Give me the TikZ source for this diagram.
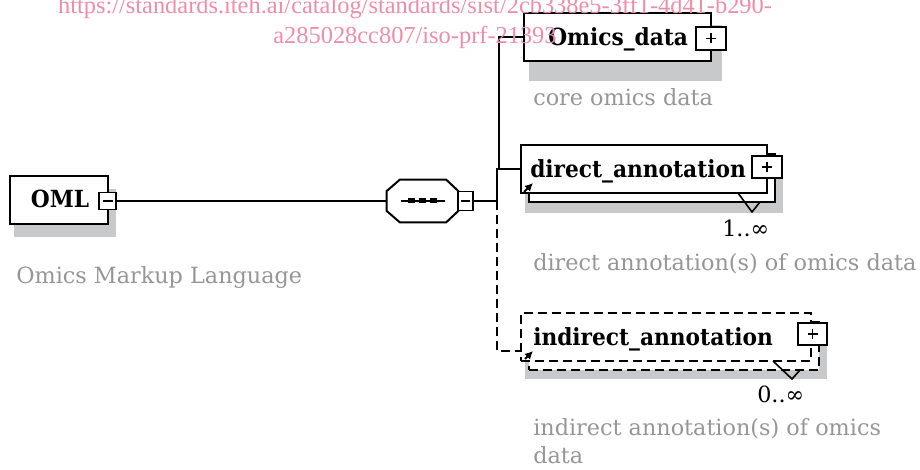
\documentclass[tikz,border=0pt]{standalone}
\usepackage{fontspec}
\setmainfont{DejaVu Serif}
\newfontfamily\lblfam[FakeStretch=0.92]{DejaVu Serif}
\newfontfamily\urlfont{Liberation Serif}
\usetikzlibrary{arrows.meta,calc}
\definecolor{shadowgray}{RGB}{200,201,203}
\definecolor{notegray}{RGB}{150,150,152}
\definecolor{urlpink}{RGB}{240,140,170}
\newcommand{\lblfont}{\lblfam\fontsize{17.7}{20}\selectfont\bfseries}
\newcommand{\notefont}{\fontsize{16.75}{19}\selectfont}
\begin{document}
\begin{tikzpicture}[x=0.75pt,y=-0.75pt,
  sz/.style 2 args={minimum width=#1*0.75pt, minimum height=#2*0.75pt},
  bx/.style={draw, line width=1.5pt, fill=white, inner sep=0},
  dbx/.style={bx, dash pattern=on 7pt off 3.5pt},
  pmb/.style={draw, line width=1.2pt, fill=white, inner sep=0},
  shad/.style={fill=shadowgray},
  conn/.style={line width=1.5pt},
  dconn/.style={line width=1.5pt, dash pattern=on 7pt off 3.5pt},
  lbl/.style={font=\lblfont, text=black, inner sep=0, anchor=base west},
  note/.style={font=\notefont, text=notegray, inner sep=0, anchor=base west},
  card/.style={font=\notefont, text=black, inner sep=0, anchor=base west},
  refarrow/.style={line width=1.4pt, -{Latex[length=6pt,width=6pt]}},
  sign/.style={line width=1pt}]
\useasboundingbox (0,0) rectangle (920,470);

% ---------- shadows ----------
\fill[shad] (14,189) rectangle (116,237);
\fill[shad] (529,25) rectangle (722,81);
\fill[shad] (525,160) rectangle (783,213);
\fill[shad] (525,330) rectangle (827,379);

% ---------- OML ----------
\node[bx, sz={98}{48}] (oml) at (59,200) {};
\node[lbl, anchor=base] (omltxt) at (60,208) {OML};
\node[pmb, sz={17}{17}] (omlpm) at (107.5,201) {};
\draw[sign] ($(omlpm.center)+(-5,0)$) -- ($(omlpm.center)+(5,0)$);
\node[note] (omlnote) at (16,283) {Omics Markup Language};

% ---------- sequence compositor ----------
\node[inner sep=0, sz={71}{42}] (seq) at (422.5,201) {};
\draw[line width=1.5pt, fill=white]
  ($(seq.west)+(0,-10)$) -- ($(seq.north west)+(13,0)$) -- ($(seq.north east)+(-12,0)$)
  -- ($(seq.east)+(0,-10)$) -- ($(seq.east)+(0,10)$) -- ($(seq.south east)+(-12,0)$)
  -- ($(seq.south west)+(13,0)$) -- ($(seq.west)+(0,10)$) -- cycle;
\draw[line width=1.5pt] ($(seq.center)+(-22,0)$) -- ($(seq.center)+(22,0)$);
\fill ($(seq.center)+(-14.5,-2.5)$) rectangle ($(seq.center)+(-7.5,2.5)$);
\fill ($(seq.center)+(-3.5,-2.5)$) rectangle ($(seq.center)+(3.5,2.5)$);
\fill ($(seq.center)+(7.5,-2.5)$) rectangle ($(seq.center)+(14.5,2.5)$);
\node[pmb, sz={15}{19}] (seqpm) at (465.5,201) {};
\draw[sign] ($(seqpm.center)+(-4.5,0)$) -- ($(seqpm.center)+(4.5,0)$);

% ---------- Omics_data ----------
\node[bx, sz={187}{48}] (omics) at (617.5,37) {};
\node[lbl] (omicstxt) at (548,46) {Omics\_data};
\node[pmb, sz={30}{23}] (omicspm) at (711,38.5) {};
\draw[sign] ($(omicspm.center)+(-5,0)$) -- ($(omicspm.center)+(5,0)$);
\draw[sign] ($(omicspm.center)+(0,-5)$) -- ($(omicspm.center)+(0,5)$);
\node[note] (omicsnote) at (533,106) {core omics data};

% ---------- direct_annotation ----------
\node[bx, sz={246}{48}] (dirback) at (652,178) {};
\node[bx, sz={246}{48}] (dir) at (644,169) {};
\node[lbl] (dirtxt) at (530,178) {direct\_annotation};
\node[pmb, sz={30}{22}] (dirpm) at (767,167) {};
\draw[sign] ($(dirpm.center)+(-5,0)$) -- ($(dirpm.center)+(5,0)$);
\draw[sign] ($(dirpm.center)+(0,-5)$) -- ($(dirpm.center)+(0,5)$);
\draw[line width=1.2pt] (738,193) -- (752,212) -- (760,202);
\draw[refarrow] ($(dir.south west)+(4,-2)$) -- ($(dir.south west)+(13,-11)$);
\node[card] (dircard) at (722,237) {1..∞};
\node[note] (dirnote) at (533,271) {direct annotation(s) of omics data};

% ---------- indirect_annotation ----------
\node[dbx, sz={290}{48}] (indback) at (674,346) {};
\node[dbx, sz={290}{48}] (ind) at (666,337) {};
\node[lbl] (indtxt) at (533,345) {indirect\_annotation};
\node[pmb, sz={29}{22}] (indpm) at (812.5,334) {};
\draw[sign] ($(indpm.center)+(-5,0)$) -- ($(indpm.center)+(5,0)$);
\draw[sign] ($(indpm.center)+(0,-5)$) -- ($(indpm.center)+(0,5)$);
\draw[line width=1.2pt] (773,361) -- (792,379) -- (800,370);
\draw[refarrow] ($(ind.south west)+(5,-3)$) -- ($(ind.south west)+(13,-11)$);
\node[card] (indcard) at (757,402) {0..∞};
\node[note] (indnote1) at (533,435) {indirect annotation(s) of omics};
\node[note] (indnote2) at (533,463) {data};

% ---------- connectors ----------
\coordinate (jn) at (497,201);
\coordinate (jn2) at (499,169);
\coordinate (indin) at ($(ind.west)+(0,14)$);
\draw[conn] (omlpm.east) -- (seq.west);
\draw[conn] (seqpm.east) -- (jn);
\draw[conn] (jn) |- (dir.west);
\draw[conn] (jn2) |- (omics.west);
\draw[dconn] (jn) |- (indin);

% ---------- watermark ----------
\node[font=\urlfont\fontsize{18.3}{22.5}\selectfont, text=urlpink, inner sep=0, anchor=base] (url1) at (415,14)
  {https://standards.iteh.ai/catalog/standards/sist/2cb338e5-3ff1-4d41-b290-};
\node[font=\urlfont\fontsize{18.3}{22.5}\selectfont, text=urlpink, inner sep=0, anchor=base] (url2) at (415,44)
  {a285028cc807/iso-prf-21393};
\end{tikzpicture}
\end{document}
